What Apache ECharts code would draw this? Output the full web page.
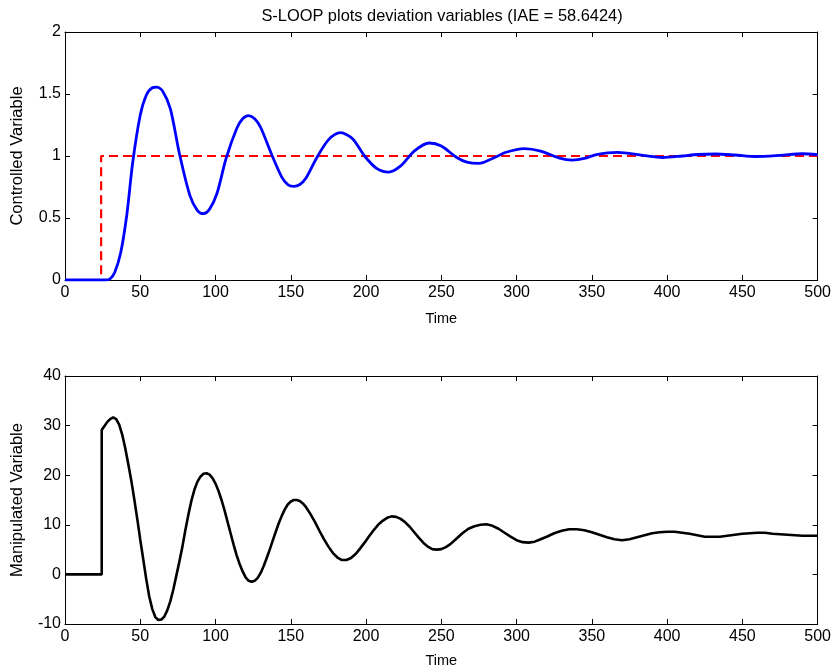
<!DOCTYPE html>
<html>
<head>
<meta charset="utf-8">
<script src="https://cdn.jsdelivr.net/npm/echarts@6/dist/echarts.min.js"></script>
<style>
html,body{margin:0;padding:0;background:#fff;}
#c{width:834px;height:670px;}
</style>
</head>
<body>
<div id="c"></div>
<script>
// Controlled variable (blue)
var cvTime = [0,27,30,33,37,41,45,50,54,58,61,65,70,76,83,88,92,96,101,107,114,118,122,126,130,137,144,148,152,156,160,167,175,183,191,199,207,215,223,232,242,250,260,267,275,284,293,305,316,328,337,345,353,367,384,397,410,420,432,445,459,475,490,500];
var cvValue = [0,0,0.01,0.06,0.22,0.52,0.95,1.33,1.49,1.55,1.555,1.52,1.38,1.02,0.68,0.56,0.535,0.57,0.70,0.98,1.22,1.30,1.325,1.30,1.23,1.02,0.83,0.77,0.755,0.77,0.82,0.98,1.13,1.188,1.14,1.0,0.90,0.87,0.92,1.04,1.105,1.08,0.99,0.95,0.94,0.98,1.03,1.06,1.04,0.985,0.967,0.98,1.012,1.03,1.005,0.988,1.0,1.012,1.016,1.008,0.996,1.005,1.018,1.01];
// Setpoint (red dashed)
var spTime = [0,24,24,500];
var spValue = [0,0,1,1];
// Manipulated variable (black)
var mvTime = [0,24.4,24.4,26,28,30,32,34,36,38,40,42,44,46,48,50,52,54,56,58,60,62,64,66,68,70,72,74,76,78,80,82,84,86,88,90,92,94,96,98,100,102,104,106,108,110,112,114,116,118,120,122,124,126,128,130,132,134,136,138,140,142,144,146,148,150,152,154,156,158,160,163,166,169,172,175,178,181,184,187,190,193,196,199,202,205,208,211,214,217,220,223,226,229,232,235,238,241,244,247,250,253,256,260,264,268,272,276,280,284,288,292,296,300,304,308,312,316,320,325,330,335,340,345,350,355,360,365,370,375,380,385,390,395,400,405,410,415,420,425,430,435,440,445,450,455,460,465,470,475,480,485,490,495,500];
var mvValue = [0,0,29.1,29.8,30.7,31.3,31.65,31.3,30.2,28.2,25.5,22.3,19,15.2,11.2,7,3,-1,-4.5,-7,-8.6,-9.2,-9.1,-8.5,-7.2,-5.4,-3,-0.2,2.6,5.6,9,12.1,14.9,17.1,18.7,19.7,20.3,20.4,20.1,19.4,18.3,16.8,15,12.9,10.6,8.3,6,3.9,2.1,0.6,-0.6,-1.3,-1.5,-1.3,-0.7,0.3,1.7,3.3,5.0,6.8,8.6,10.3,11.8,13.1,14.1,14.7,15.0,15.0,14.8,14.3,13.6,12.2,10.6,8.8,7.1,5.6,4.3,3.4,2.9,2.9,3.3,4.1,5.2,6.4,7.7,8.9,10,10.8,11.4,11.7,11.6,11.2,10.5,9.6,8.5,7.4,6.4,5.6,5.1,5.0,5.1,5.5,6.1,7.2,8.3,9.2,9.7,10.0,10.1,9.8,9.2,8.4,7.6,6.9,6.5,6.4,6.6,7.1,7.6,8.3,8.8,9.1,9.1,8.9,8.5,8.0,7.5,7.1,6.9,7.1,7.5,7.9,8.3,8.5,8.6,8.6,8.4,8.2,7.9,7.6,7.6,7.6,7.8,8.0,8.2,8.3,8.4,8.4,8.2,8.1,8.0,7.9,7.8,7.8,7.8];

var titleText = 'S-LOOP plots deviation variables (IAE = 58.6424)';
var xName = 'Time';
var yName1 = 'Controlled Variable';
var yName2 = 'Manipulated Variable';

function pairs(t, v){ return t.map(function(x,i){ return [x, v[i]]; }); }

var FONT = 'Liberation Sans, Arial, sans-serif';
var axLine = {show:true, onZero:false, lineStyle:{color:'#000', width:1}};
var tick = {show:true, inside:true, length:5, lineStyle:{color:'#000', width:1}};
var lbl = {color:'#000', fontSize:16, fontFamily:FONT};

function xMain(gi, gap){
  return {type:'value', gridIndex:gi, min:0, max:500, interval:50, position:'bottom',
    name:xName, nameLocation:'middle', nameGap:gap,
    nameTextStyle:{color:'#000', fontSize:14.5, fontFamily:FONT},
    axisLine:axLine, axisTick:tick, axisLabel:Object.assign({margin:5}, lbl), splitLine:{show:false}};
}
function xTop(gi){
  return {type:'value', gridIndex:gi, min:0, max:500, interval:50, position:'top',
    axisLine:axLine, axisTick:tick, axisLabel:{show:false}, splitLine:{show:false}};
}
function yMain(gi, min, max, interval, name){
  return {type:'value', gridIndex:gi, min:min, max:max, interval:interval, position:'left',
    name:name, nameLocation:'middle', nameGap:39, nameRotate:90,
    nameTextStyle:{color:'#000', fontSize:16.5, fontFamily:FONT},
    axisLine:axLine, axisTick:tick, axisLabel:Object.assign({margin:4}, lbl), splitLine:{show:false}};
}
function yRight(gi, min, max, interval){
  return {type:'value', gridIndex:gi, min:min, max:max, interval:interval, position:'right',
    axisLine:axLine, axisTick:tick, axisLabel:{show:false}, splitLine:{show:false}};
}

var chart = echarts.init(document.getElementById('c'), null, {renderer:'canvas'});
chart.setOption({
  backgroundColor:'#fff',
  animation:false,
  title:{text:titleText, left:437, top:3, textAlign:'center',
    textStyle:{color:'#000', fontSize:16.4, fontWeight:'normal', fontFamily:FONT}},
  grid:[
    {left:65, right:16, top:32, bottom:390, containLabel:false},
    {left:65, right:16, top:376, bottom:46, containLabel:false}
  ],
  xAxis:[xMain(0, 31), xTop(0), xMain(1, 29), xTop(1)],
  yAxis:[yMain(0,0,2,0.5,yName1), yRight(0,0,2,0.5), yMain(1,-10,40,10,yName2), yRight(1,-10,40,10)],
  series:[
    {type:'line', xAxisIndex:0, yAxisIndex:0, data:pairs(spTime, spValue), showSymbol:false,
      lineStyle:{color:'#ff0000', width:2.2, type:[9,5]}, z:2},
    {type:'line', xAxisIndex:0, yAxisIndex:0, data:pairs(cvTime, cvValue), showSymbol:false, smooth:0.3,
      lineStyle:{color:'#0000ff', width:2.8}, z:3},
    {type:'line', xAxisIndex:2, yAxisIndex:2, data:pairs(mvTime, mvValue), showSymbol:false,
      lineStyle:{color:'#000', width:2.6}, z:3}
  ]
});
</script>
</body>
</html>
